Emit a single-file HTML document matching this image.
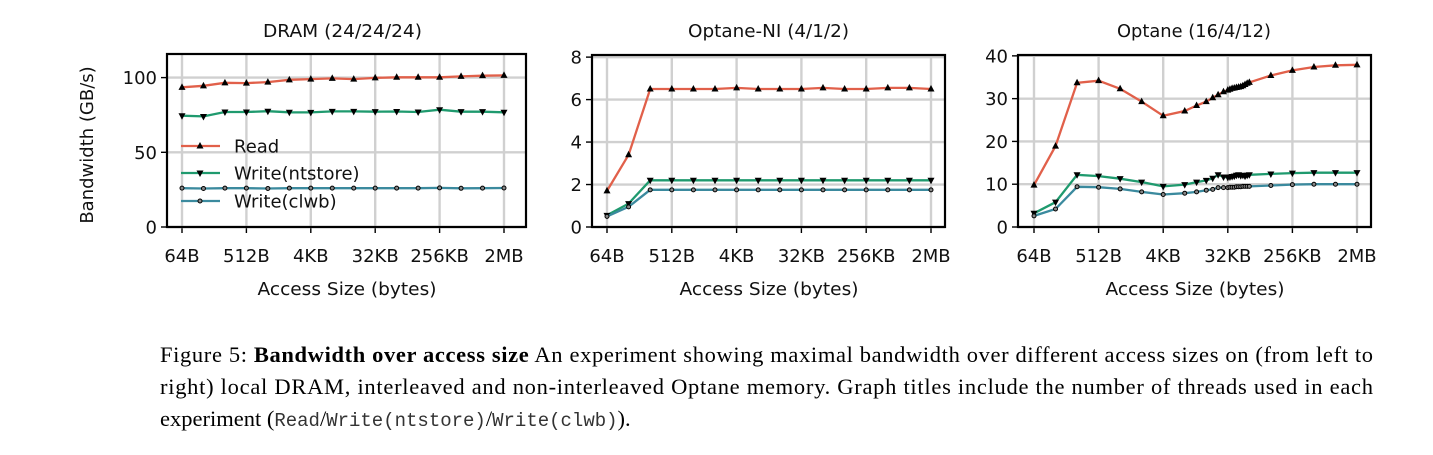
<!DOCTYPE html>
<html><head><meta charset="utf-8"><style>
html,body{margin:0;padding:0;background:#fff;}
svg{display:block;}
</style></head><body>
<svg id="fig" width="1433" height="455" xmlns="http://www.w3.org/2000/svg" font-family="DejaVu Sans, Liberation Sans, sans-serif">
<g id="charts"></g>
<g font-family="Liberation Serif, serif" font-size="22.5" fill="#000">
<text x="160" y="362" textLength="1213" lengthAdjust="spacing">Figure 5: <tspan font-weight="bold">Bandwidth over access size</tspan> An experiment showing maximal bandwidth over different access sizes on (from left to</text>
<text x="160" y="394" textLength="1213" lengthAdjust="spacing">right) local DRAM, interleaved and non-interleaved Optane memory. Graph titles include the number of threads used in each</text>
<text x="160" y="426">experiment (<tspan font-family="Liberation Mono, monospace" font-size="19" fill="#333">Read</tspan>/<tspan font-family="Liberation Mono, monospace" font-size="19" fill="#333">Write(ntstore)</tspan>/<tspan font-family="Liberation Mono, monospace" font-size="19" fill="#333">Write(clwb)</tspan>).</text>
</g>
</svg>
<script>
// shared x categories (log2 of bytes)
const xLogStd = [6,7,8,9,10,11,12,13,14,15,16,17,18,19,20,21];
const xTickLogs = [6,9,12,15,18,21];
const xTickLabels = ["64B","512B","4KB","32KB","256KB","2MB"];
// DRAM
const dramRead = [93.5,94.5,96.5,96.3,97,98.5,99,99.5,99,99.8,100.2,100.2,100.2,100.8,101.3,101.5];
const dramNt = [74.5,74,77,77,77.5,76.8,76.7,77.4,77.4,77.2,77.3,77,78.5,77.2,77.2,76.8];
const dramClwb = [26,25.8,26,26,25.8,26,26,26,26,26,26,26,26.2,25.9,26,26.1];
const dramTicks = [0,50,100];
// Optane-NI
const niRead = [1.7,3.4,6.5,6.5,6.5,6.5,6.55,6.5,6.5,6.5,6.55,6.5,6.5,6.55,6.55,6.5];
const niNt = [0.55,1.1,2.2,2.2,2.2,2.2,2.2,2.2,2.2,2.2,2.2,2.2,2.2,2.2,2.2,2.2];
const niClwb = [0.5,0.95,1.75,1.75,1.75,1.75,1.75,1.75,1.75,1.75,1.75,1.75,1.75,1.75,1.75,1.75];
const niTicks = [0,2,4,6,8];
// Optane
const opX = [6,7,8,9,10,11,12,13,13.55,14,14.3,14.55,14.8,15,15.1,15.2,15.3,15.4,15.5,15.6,15.7,15.8,15.9,16,17,18,19,20,21];
const opRead = [9.8,18.9,33.7,34.2,32.3,29.3,26.0,27.1,28.4,29.3,30.2,30.9,31.6,32.0,32.2,32.4,32.5,32.6,32.7,32.8,33.0,33.3,33.6,33.8,35.4,36.6,37.4,37.8,37.9];
const opNt = [3.2,5.8,12.2,11.9,11.3,10.5,9.5,9.9,10.5,10.9,11.4,12.2,11.7,11.6,11.7,11.8,11.9,12.1,12.2,12.0,12.1,11.9,12.1,12.2,12.4,12.6,12.7,12.7,12.7];
const opClwb = [2.6,4.2,9.4,9.3,8.9,8.2,7.6,7.9,8.2,8.6,8.8,9.2,9.2,9.2,9.3,9.3,9.3,9.4,9.4,9.4,9.5,9.5,9.5,9.5,9.7,9.9,10.0,10.0,10.0];
const opTicks = [0,10,20,30,40];

const NS="http://www.w3.org/2000/svg";
const root=document.getElementById('charts');
function mk(tag,attrs,parent){const e=document.createElementNS(NS,tag);for(const k in attrs)e.setAttribute(k,attrs[k]);parent.appendChild(e);return e;}
const C={read:"#e1604a",nt:"#1f9a6e",clwb:"#3b8a9e"};
const FS=18;

function chart(cfg){
  const g=mk('g',{},root);
  
  
  const L=cfg.left,R=cfg.right,T=cfg.top,B=227;
  const x0=cfg.x6,x1=cfg.x21;
  const sx=v=>x0+(v-6)*(x1-x0)/15;
  const sy=v=>B-v*(B-T)/cfg.ymax;
  xTickLogs.forEach((lv,i)=>{
    const l=mk('line',{x1:sx(lv),x2:sx(lv),y1:T,y2:B,stroke:"#d0d0d0","stroke-width":2.4},g);
    
    
    mk('line',{x1:sx(lv),x2:sx(lv),y1:B,y2:B+6,stroke:"#000","stroke-width":1.4},g);
    const t=mk('text',{x:sx(lv),y:262,"text-anchor":"middle","font-size":FS,fill:"#111"},g);
    t.textContent=xTickLabels[i];
    
    
  });
  cfg.ticks.forEach(v=>{
    const l=mk('line',{x1:L,x2:R,y1:sy(v),y2:sy(v),stroke:"#d0d0d0","stroke-width":2.4},g);
    
    
    mk('line',{x1:L-6,x2:L,y1:sy(v),y2:sy(v),stroke:"#000","stroke-width":1.4},g);
    const t=mk('text',{x:L-10,y:sy(v)+6.5,"text-anchor":"end","font-size":FS,fill:"#111"},g);
    t.textContent=v;
    
    
  });
  const series=[["read",cfg.read,"tri-up"],["nt",cfg.nt,"tri-down"],["clwb",cfg.clwb,"circle"]];
  series.forEach(([key,vals,mkType])=>{
    const xs=cfg.xs;
    const pts=vals.map((v,i)=>sx(xs[i]).toFixed(1)+","+sy(v).toFixed(1)).join(" ");
    const pl=mk('polyline',{points:pts,fill:"none",stroke:C[key],"stroke-width":2.3},g);
    
    
    vals.forEach((v,i)=>{
      const px=sx(xs[i]),py=sy(v);let m;
      if(mkType==="tri-up") m=mk('polygon',{points:`${px},${py-4} ${px-3.5},${py+2.5} ${px+3.5},${py+2.5}`,fill:"#000"},g);
      else if(mkType==="tri-down") m=mk('polygon',{points:`${px},${py+4} ${px-3.5},${py-2.5} ${px+3.5},${py-2.5}`,fill:"#000"},g);
      else m=mk('circle',{cx:px,cy:py,r:2,fill:"#888",stroke:"#000","stroke-width":1},g);
      
      
    });
  });
  const fr=mk('rect',{x:L,y:T,width:R-L,height:B-T,fill:"none",stroke:"#000","stroke-width":2.2},g);
  
  
  const tt=mk('text',{x:cfg.titleX,y:37,"font-size":FS,fill:"#111",textLength:cfg.titleW,lengthAdjust:"spacingAndGlyphs"},g);
  tt.textContent=cfg.title;
  
  
  const xt=mk('text',{x:(L+R)/2-89,y:295,"font-size":FS,fill:"#111",textLength:179,lengthAdjust:"spacingAndGlyphs"},g);
  xt.textContent="Access Size (bytes)";
  
  
  return {g,sx,sy};
}

const c1=chart({name:"dram-chart",title:"DRAM (24/24/24)",titleX:263,titleW:159,left:167,right:526,top:54,x6:182,x21:504,ymax:115.8,ticks:dramTicks,xs:xLogStd,read:dramRead,nt:dramNt,clwb:dramClwb});
chart({name:"optane-ni-chart",title:"Optane-NI (4/1/2)",titleX:688,titleW:161,left:592,right:945,top:55,x6:607,x21:931,ymax:8.1,ticks:niTicks,xs:xLogStd,read:niRead,nt:niNt,clwb:niClwb});
chart({name:"optane-chart",title:"Optane (16/4/12)",titleX:1117,titleW:154,left:1018,right:1371,top:55,x6:1034,x21:1357,ymax:40.2,ticks:opTicks,xs:opX,read:opRead,nt:opNt,clwb:opClwb});

const yt=mk('text',{x:0,y:0,"text-anchor":"middle","font-size":FS,fill:"#111",transform:"translate(93,145) rotate(-90)"},root);
yt.textContent="Bandwidth (GB/s)";



const leg=mk('g',{},c1.g);


[["read","Read",146],["nt","Write(ntstore)",173],["clwb","Write(clwb)",201]].forEach(([k,lab,y])=>{
  const e=mk('g',{},leg);
  
  
  mk('line',{x1:181,x2:220,y1:y,y2:y,stroke:C[k],"stroke-width":2.3},e);
  if(k==="read") mk('polygon',{points:`200,${y-4} 196.5,${y+2.5} 203.5,${y+2.5}`,fill:"#000"},e);
  else if(k==="nt") mk('polygon',{points:`200,${y+4} 196.5,${y-2.5} 203.5,${y-2.5}`,fill:"#000"},e);
  else mk('circle',{cx:200,cy:y,r:2,fill:"#888",stroke:"#000","stroke-width":1},e);
  const t=mk('text',{x:234,y:y+6.5,"font-size":FS,fill:"#111"},e);
  t.textContent=lab;
});
</script>
</body></html>
